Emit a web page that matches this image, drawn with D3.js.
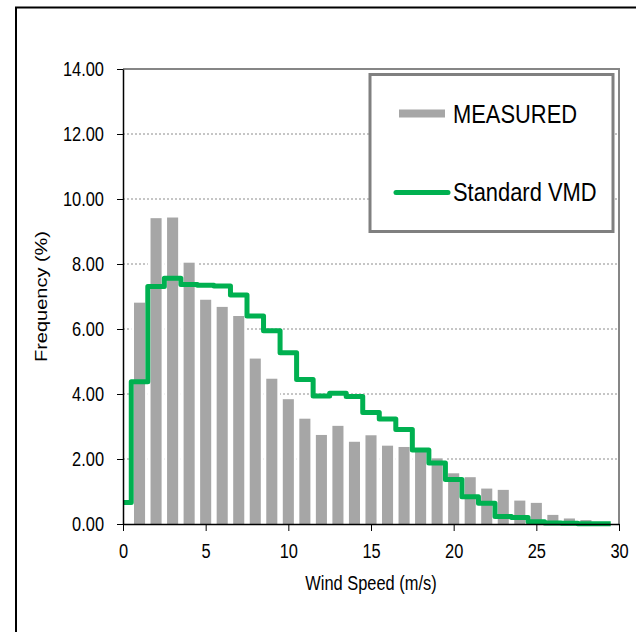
<!DOCTYPE html>
<html>
<head>
<meta charset="utf-8">
<script src="https://cdn.jsdelivr.net/npm/d3@7"></script>
<style>
  body { margin: 0; background: #fff; }
  text { font-family: 'Liberation Sans', Arial, sans-serif; fill: #000; }
</style>
</head>
<body>
<div id="chart"></div>
<script>
// wind speed bins (m/s)
let speeds = [0, 1, 2, 3, 4, 5, 6, 7, 8, 9, 10, 11, 12, 13, 14, 15, 16, 17, 18, 19, 20, 21, 22, 23, 24, 25, 26, 27, 28, 29]

// measured frequency (%) for bins 1..28
let measuredSpeeds = [1, 2, 3, 4, 5, 6, 7, 8, 9, 10, 11, 12, 13, 14, 15, 16, 17, 18, 19, 20, 21, 22, 23, 24, 25, 26, 27, 28]
let measured = [6.81, 9.41, 9.43, 8.04, 6.90, 6.68, 6.40, 5.09, 4.47, 3.84, 3.24, 2.74, 3.02, 2.53, 2.73, 2.41, 2.37, 2.25, 2.02, 1.56, 1.44, 1.09, 1.05, 0.72, 0.65, 0.28, 0.17, 0.12]

// standard VMD frequency (%) for bins 0..29
let vmd = [0.66, 4.38, 7.31, 7.56, 7.37, 7.35, 7.32, 7.05, 6.40, 5.95, 5.27, 4.45, 3.94, 4.02, 3.92, 3.43, 3.23, 2.91, 2.28, 1.88, 1.37, 0.84, 0.64, 0.23, 0.20, 0.07, 0.03, 0.02, 0.01, 0.01]

let xTicks = [0, 5, 10, 15, 20, 25, 30]
let yTicks = [0, 2, 4, 6, 8, 10, 12, 14]

let legendLabels = ['MEASURED', 'Standard VMD']

let width = 636
let height = 632
let margin = { top: 69, left: 123, right: 17, bottom: 108 }
let plotW = width - margin.left - margin.right
let plotH = height - margin.top - margin.bottom

// the whole chart is squeezed sideways
let squeeze = 0.82

// squeeze horizontal text to the narrow face
function narrow(sel) {
  sel.each(function() {
    let w = this.getComputedTextLength()
    d3.select(this)
      .attr('textLength', w * squeeze)
      .attr('lengthAdjust', 'spacingAndGlyphs')
  })
}

let svg = d3
  .select('#chart')
  .append('svg')
  .attr('width', width)
  .attr('height', height)

// outer frame, runs off the right and bottom edges
svg
  .append('rect')
  .attr('x', 16)
  .attr('y', 7.5)
  .attr('width', 700)
  .attr('height', 700)
  .attr('fill', 'none')
  .attr('stroke', '#000')
  .attr('stroke-width', 2)

let g = svg
  .append('g')
  .attr('transform', 'translate(' + margin.left + ',' + margin.top + ')')

let xScale = d3.scaleLinear().domain([0, 30]).range([0, plotW])
let yScale = d3.scaleLinear().domain([0, 14]).range([plotH, 0])

// dotted gridlines
g.selectAll('.grid')
  .data(yTicks.filter(d => d > 0 && d < 14))
  .enter()
  .append('line')
  .attr('class', 'grid')
  .attr('x1', 0)
  .attr('x2', plotW)
  .attr('y1', d => yScale(d))
  .attr('y2', d => yScale(d))
  .attr('stroke', '#8c8c8c')
  .attr('stroke-width', 1)
  .attr('stroke-dasharray', '2,2')

// top and right edges of the plot area
g.append('path')
  .attr('d', 'M0,' + yScale(14) + 'H' + xScale(30) + 'V' + yScale(0))
  .attr('fill', 'none')
  .attr('stroke', '#868686')
  .attr('stroke-width', 2)

let step = xScale(1) - xScale(0)
let barW = step * 0.67

// white band behind each bar hides the gridlines in the gaps
g.selectAll('.band')
  .data(measured)
  .enter()
  .append('rect')
  .attr('class', 'band')
  .attr('x', (d, i) => xScale(measuredSpeeds[i]) - step / 2)
  .attr('width', step)
  .attr('y', d => yScale(d) - 2)
  .attr('height', d => yScale(0) - yScale(d) + 2)
  .attr('fill', '#fff')

g.selectAll('.bar')
  .data(measured)
  .enter()
  .append('rect')
  .attr('class', 'bar')
  .attr('x', (d, i) => xScale(measuredSpeeds[i]) - barW / 2)
  .attr('width', barW)
  .attr('y', d => yScale(d))
  .attr('height', d => yScale(0) - yScale(d))
  .attr('fill', '#a6a6a6')

// step line: each value holds from half a bin before to half a bin after
let linePoints = vmd.map((v, i) => [Math.max(0, speeds[i] - 0.5), v])
linePoints.push([speeds[speeds.length - 1] + 0.5, vmd[vmd.length - 1]])

let line = d3
  .line()
  .x(d => xScale(d[0]))
  .y(d => yScale(d[1]))
  .curve(d3.curveStepAfter)

g.append('path')
  .datum(linePoints)
  .attr('d', line)
  .attr('fill', 'none')
  .attr('stroke', '#00b050')
  .attr('stroke-width', 5)
  .attr('stroke-linejoin', 'round')

// axes
let yAxis = d3
  .axisLeft(yScale)
  .tickValues(yTicks)
  .tickFormat(d3.format('.2f'))
  .tickSizeInner(6)
  .tickSizeOuter(0)
  .tickPadding(13)

let xAxis = d3
  .axisBottom(xScale)
  .tickValues(xTicks)
  .tickSizeInner(7)
  .tickSizeOuter(0)
  .tickPadding(13)

let yG = g.append('g').call(yAxis)
let xG = g
  .append('g')
  .attr('transform', 'translate(0,' + plotH + ')')
  .call(xAxis)

;[yG, xG].forEach(a => {
  a.select('.domain').attr('stroke', '#000').attr('stroke-width', 1.5)
  a.selectAll('.tick line').attr('stroke', '#000')
  a.selectAll('.tick text')
    .attr('font-size', 20)
    .attr('font-family', null)
    .call(narrow)
})

// axis titles
svg
  .append('text')
  .attr('x', margin.left + plotW / 2)
  .attr('y', 590)
  .attr('text-anchor', 'middle')
  .attr('font-size', 20)
  .text('Wind Speed (m/s)')
  .call(narrow)

// rotated title: the sideways squeeze thins the glyphs but keeps the length
svg
  .append('text')
  .attr('transform', 'translate(47,' + (margin.top + plotH / 2) + ') scale(' + squeeze + ',1) rotate(-90)')
  .attr('text-anchor', 'middle')
  .attr('font-size', 20)
  .text('Frequency (%)')

// legend
let legend = svg.append('g').attr('transform', 'translate(370,74.5)')

legend
  .append('rect')
  .attr('width', 243)
  .attr('height', 157)
  .attr('fill', '#fff')
  .attr('stroke', '#808080')
  .attr('stroke-width', 3)

legend
  .append('line')
  .attr('x1', 29)
  .attr('x2', 75)
  .attr('y1', 39)
  .attr('y2', 39)
  .attr('stroke', '#a6a6a6')
  .attr('stroke-width', 8)

legend
  .append('line')
  .attr('x1', 26)
  .attr('x2', 78)
  .attr('y1', 118)
  .attr('y2', 118)
  .attr('stroke', '#00b050')
  .attr('stroke-width', 5)
  .attr('stroke-linecap', 'round')

legend
  .selectAll('.legend-label')
  .data(legendLabels)
  .enter()
  .append('text')
  .attr('class', 'legend-label')
  .attr('x', 83)
  .attr('y', (d, i) => (i === 0 ? 48.5 : 126.5))
  .attr('font-size', 26.7)
  .text(d => d)
  .call(narrow)
</script>
</body>
</html>
